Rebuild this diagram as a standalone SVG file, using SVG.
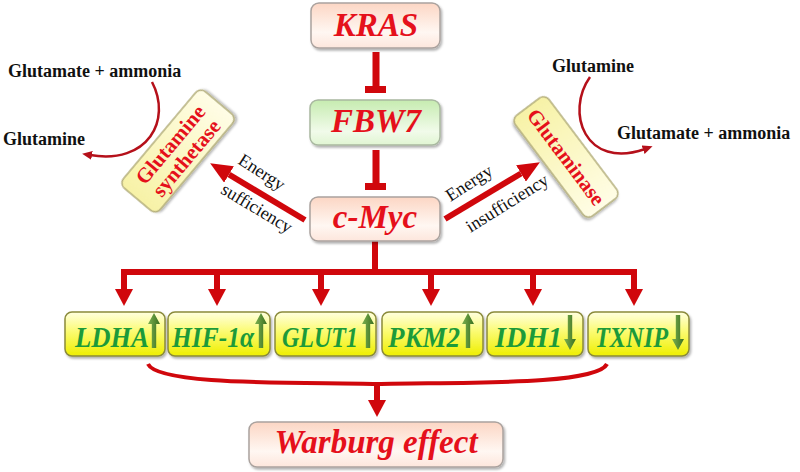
<svg xmlns="http://www.w3.org/2000/svg" width="800" height="472" viewBox="0 0 800 472">
<style>
text{font-family:'Liberation Serif','DejaVu Serif','Times New Roman',serif}
.main{font-weight:bold;font-style:italic;font-size:33px;fill:#e5101b;text-anchor:middle}
.gene{font-weight:bold;font-style:italic;font-size:29px;fill:#1c9a3a}
.enz{font-weight:bold;font-size:21px;fill:#e5101b;text-anchor:middle}
.met{font-weight:bold;font-size:18px;fill:#111}
.lab{font-size:18px;fill:#111;text-anchor:middle}
.peach{fill:url(#gPeach);stroke:#aaa29e;stroke-width:1.5}
.green{fill:url(#gGreen);stroke:#a9b8a0;stroke-width:1.5}
.yel{fill:url(#gYel);stroke:#8a8a3a;stroke-width:1.5}
.pale{fill:url(#gPale);stroke:#b3ad7a;stroke-width:1.5}
.red{fill:none;stroke:#d0070c}
.thin{fill:none;stroke:#b5101a;stroke-width:2.5}
</style>
<defs>
<linearGradient id="gPeach" x1="0" y1="0" x2="0" y2="1"><stop offset="0" stop-color="#fcd6c4"/><stop offset="0.65" stop-color="#fff7f2"/><stop offset="1" stop-color="#fde6dc"/></linearGradient>
<linearGradient id="gGreen" x1="0" y1="0" x2="0" y2="1"><stop offset="0" stop-color="#c6ebb0"/><stop offset="0.7" stop-color="#f1fbea"/><stop offset="1" stop-color="#e0f5d2"/></linearGradient>
<linearGradient id="gYel" x1="0" y1="0" x2="0" y2="1"><stop offset="0" stop-color="#ffffe0"/><stop offset="0.45" stop-color="#fbfb70"/><stop offset="1" stop-color="#eeee00"/></linearGradient>
<linearGradient id="gPale" x1="0" y1="0" x2="1" y2="0"><stop offset="0" stop-color="#f7f2a6"/><stop offset="1" stop-color="#fffde6"/></linearGradient>
<linearGradient id="gArr" x1="0" y1="0" x2="1" y2="0"><stop offset="0" stop-color="#7cb050"/><stop offset="1" stop-color="#3a7020"/></linearGradient>
<filter id="sh" x="-10%" y="-10%" width="130%" height="140%"><feDropShadow dx="1.5" dy="2" stdDeviation="1.2" flood-color="#000" flood-opacity="0.3"/></filter>
<marker id="ah" markerUnits="userSpaceOnUse" markerWidth="17" markerHeight="18" viewBox="0 0 17 18" refX="0" refY="9" orient="auto"><path d="M0,0 L17,9 L0,18 z" fill="#d0070c"/></marker>
<marker id="ah2" markerUnits="userSpaceOnUse" markerWidth="22" markerHeight="19" viewBox="0 0 22 19" refX="0" refY="9.5" orient="auto"><path d="M0,0 L22,9.5 L0,19 z" fill="#d0070c"/></marker>
<marker id="ahs" markerUnits="userSpaceOnUse" markerWidth="10" markerHeight="9" viewBox="0 0 10 9" refX="2" refY="4.5" orient="auto"><path d="M0,0 L10,4.5 L0,9 z" fill="#b5101a"/></marker>
<path id="up" d="M0,0 L6,11 L2.2,11 L2.2,35 L-2.2,35 L-2.2,11 L-6,11 Z" fill="url(#gArr)"/>
</defs>
<rect width="800" height="472" fill="#fff"/>

<g id="connectors">
<path class="red" stroke-width="7" d="M376,52 V87 M365,89.5 H386"/>
<path class="red" stroke-width="7" d="M376,150 V184 M365,186.5 H386"/>
<path class="red" stroke-width="6" d="M375,240 V272 M121,272 H637"/>
<path class="red" stroke-width="6" marker-end="url(#ah)" d="M124,270 V289"/>
<path class="red" stroke-width="6" marker-end="url(#ah)" d="M217,270 V289"/>
<path class="red" stroke-width="6" marker-end="url(#ah)" d="M321,270 V289"/>
<path class="red" stroke-width="6" marker-end="url(#ah)" d="M431,270 V289"/>
<path class="red" stroke-width="6" marker-end="url(#ah)" d="M533,270 V289"/>
<path class="red" stroke-width="6" marker-end="url(#ah)" d="M634,270 V289"/>
<path class="red" stroke-width="6" marker-end="url(#ah2)" d="M305,220 L229,174.5"/>
<path class="red" stroke-width="6" marker-end="url(#ah2)" d="M445,219 L521,173.5"/>
<path class="red" stroke-width="4" d="M148,364 C158,386 300,382 377,384 C454,382 596,386 607,364"/>
<path class="red" stroke-width="6" marker-end="url(#ah)" d="M377,383 V400"/>
<path class="thin" marker-end="url(#ahs)" d="M152,82 C172,120 148,165 90,155"/>
<path class="thin" marker-end="url(#ahs)" d="M590,77 C565,112 585,170 645,149"/>
</g>

<g id="kras"><rect class="peach" filter="url(#sh)" x="311" y="3" width="129" height="45" rx="8"/><text class="main" x="376" y="36">KRAS</text></g>
<g id="fbw7"><rect class="green" filter="url(#sh)" x="310" y="100" width="130" height="45" rx="8"/><text class="main" x="376" y="132">FBW7</text></g>
<g id="cmyc"><rect class="peach" filter="url(#sh)" x="310" y="197" width="130" height="44" rx="8"/><text class="main" x="375" y="228">c-Myc</text></g>
<g id="warburg"><rect class="peach" filter="url(#sh)" x="249" y="422" width="254" height="45" rx="8"/><text class="main" x="376" y="453">Warburg effect</text></g>

<g id="gs" transform="translate(178,151) rotate(-50)"><rect class="pale" filter="url(#sh)" x="-63" y="-24" width="126" height="48" rx="7"/><text class="enz" x="0" y="-3">Glutamine</text><text class="enz" x="0" y="18">synthetase</text></g>
<g id="gls" transform="translate(566,157) rotate(53)"><rect class="pale" filter="url(#sh)" x="-63" y="-21" width="126" height="42" rx="7"/><text class="enz" x="0" y="7">Glutaminase</text></g>

<g id="labels">
<text class="lab" transform="translate(262,172) rotate(33)" y="6">Energy</text>
<text class="lab" transform="translate(257,208) rotate(31)" y="6">sufficiency</text>
<text class="lab" transform="translate(469,183) rotate(-33)" y="6">Energy</text>
<text class="lab" transform="translate(507,203) rotate(-32)" y="6">insufficiency</text>
<text class="met" x="8" y="77">Glutamate + ammonia</text>
<text class="met" x="3" y="145">Glutamine</text>
<text class="met" x="552" y="72">Glutamine</text>
<text class="met" x="617" y="139">Glutamate + ammonia</text>
</g>

<g id="ldha"><rect class="yel" filter="url(#sh)" x="65" y="312" width="100" height="44" rx="7"/><text class="gene" x="75" y="347" textLength="74" lengthAdjust="spacingAndGlyphs">LDHA</text><use href="#up" x="154" y="313"/></g>
<g id="hif"><rect class="yel" filter="url(#sh)" x="168" y="312" width="102" height="44" rx="7"/><text class="gene" x="172" y="347" textLength="82" lengthAdjust="spacingAndGlyphs">HIF-1α</text><use href="#up" x="261" y="313"/></g>
<g id="glut1"><rect class="yel" filter="url(#sh)" x="275" y="312" width="101" height="44" rx="7"/><text class="gene" x="282" y="347" textLength="76" lengthAdjust="spacingAndGlyphs">GLUT1</text><use href="#up" x="368" y="313"/></g>
<g id="pkm2"><rect class="yel" filter="url(#sh)" x="382" y="312" width="101" height="44" rx="7"/><text class="gene" x="388" y="347" textLength="72" lengthAdjust="spacingAndGlyphs">PKM2</text><use href="#up" x="468" y="313"/></g>
<g id="idh1"><rect class="yel" filter="url(#sh)" x="487" y="312" width="96" height="44" rx="7"/><text class="gene" x="495" y="347" textLength="67" lengthAdjust="spacingAndGlyphs">IDH1</text><use href="#up" transform="translate(570,350) scale(1,-1)"/></g>
<g id="txnip"><rect class="yel" filter="url(#sh)" x="588" y="312" width="101" height="44" rx="7"/><text class="gene" x="595" y="347" textLength="73" lengthAdjust="spacingAndGlyphs">TXNIP</text><use href="#up" transform="translate(678,350) scale(1,-1)"/></g>
</svg>
